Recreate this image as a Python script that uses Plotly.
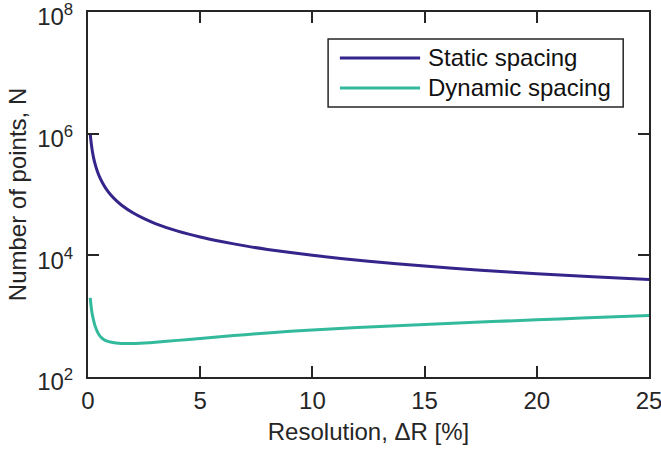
import plotly.graph_objects as go

# Data
resolution_static = [0.1, 0.12, 0.15, 0.2, 0.25, 0.3, 0.4, 0.5, 0.65, 0.8, 1.0, 1.25, 1.5, 2.0, 2.5, 3.0, 4.0, 5.0, 6.0, 7.0, 8.0, 10.0, 12.5, 15.0, 17.5, 20.0, 22.5, 25.0]
points_static = [1000000, 830000, 667000, 500000, 400000, 333000, 250000, 200000, 154000, 125000, 100000, 80000, 66700, 50000, 40000, 33300, 25000, 20000, 16700, 14300, 12500, 10000, 8000, 6670, 5710, 5000, 4440, 4000]

resolution_dynamic = [0.1, 0.13, 0.16, 0.2, 0.25, 0.3, 0.4, 0.5, 0.6, 0.7, 0.85, 1.0, 1.25, 1.5, 1.75, 2.0, 2.5, 3.0, 4.0, 5.0, 6.0, 7.0, 8.0, 10.0, 12.0, 14.0, 16.0, 18.0, 20.0, 22.0, 25.0]
points_dynamic = [2000, 1550, 1250, 1030, 850, 720, 575, 490, 445, 415, 390, 375, 362, 356, 354, 355, 362, 372, 400, 430, 462, 497, 530, 595, 650, 705, 760, 815, 870, 930, 1030]

x_ticks = [0, 5, 10, 15, 20, 25]
y_tickvals = [1e2, 1e4, 1e6, 1e8]
y_ticktext = ["10<sup>2</sup>", "10<sup>4</sup>", "10<sup>6</sup>", "10<sup>8</sup>"]
series_names = ["Static spacing", "Dynamic spacing"]
colors = ["#33258A", "#33BA9D"]

font = "Liberation Sans, Arial, sans-serif"
ink = "#262626"
fsize = 24

fig = go.Figure()
fig.add_trace(go.Scatter(x=resolution_static, y=points_static, mode="lines",
                         line=dict(color=colors[0], width=3, shape="spline", smoothing=0.6),
                         name=series_names[0], showlegend=False))
fig.add_trace(go.Scatter(x=resolution_dynamic, y=points_dynamic, mode="lines",
                         line=dict(color=colors[1], width=3, shape="spline", smoothing=0.6),
                         name=series_names[1], showlegend=False))

axis_common = dict(showline=True, linecolor=ink, linewidth=2, mirror="ticks",
                   ticks="inside", ticklen=11, tickwidth=1.6, tickcolor=ink,
                   showgrid=False, zeroline=False, automargin=False,
                   ticklabeloverflow="allow",
                   tickfont=dict(family=font, size=fsize, color=ink))

fig.update_xaxes(range=[0, 25], tickvals=x_ticks, ticklabelstandoff=1,
                 title=dict(text="Resolution, ΔR [%]", font=dict(family=font, size=fsize, color=ink), standoff=10),
                 **axis_common)
fig.update_yaxes(type="log", range=[2, 8], tickvals=y_tickvals, ticktext=y_ticktext,
                 ticklabelstandoff=8, ticklabelshift=5,
                 title=dict(text="Number of points, N", font=dict(family=font, size=fsize, color=ink), standoff=4),
                 **axis_common)

# Manual legend (box, sample lines, labels) in axis-domain coordinates
fig.add_shape(type="rect", xref="x domain", yref="y domain", x0=0.428, x1=0.954, y0=0.740, y1=0.926,
              line=dict(color=ink, width=1.5), fillcolor="white")
legend_y = [0.874, 0.792]
for name, col, ly in zip(series_names, colors, legend_y):
    fig.add_shape(type="line", xref="x domain", yref="y domain", x0=0.449, x1=0.592, y0=ly, y1=ly,
                  line=dict(color=col, width=3))
    fig.add_annotation(xref="x domain", yref="y domain", x=0.603, y=ly, text=name, showarrow=False,
                       xanchor="left", yanchor="middle", font=dict(family=font, size=fsize, color="#111111"))

fig.update_layout(width=661, height=453, margin=dict(l=88, r=12, t=12, b=76),
                  plot_bgcolor="white", paper_bgcolor="white", showlegend=False)

fig.write_html("out.html", config={"displayModeBar": False},
               post_script="document.body.style.margin='0px';")
